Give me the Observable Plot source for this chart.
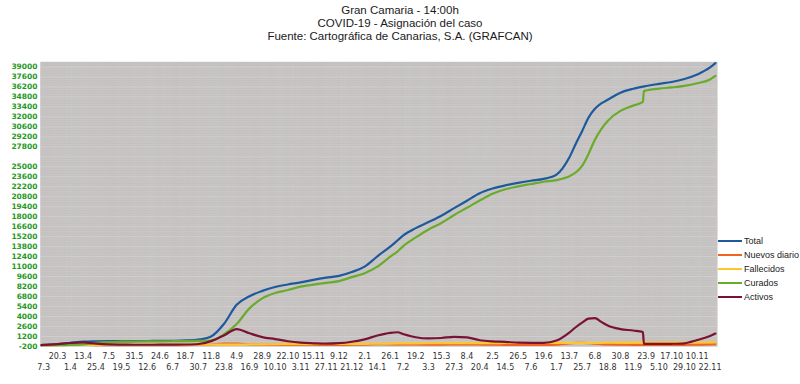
<!DOCTYPE html>
<html><head><meta charset="utf-8">
<script src="https://cdn.jsdelivr.net/npm/d3@7"></script>
<script src="https://cdn.jsdelivr.net/npm/@observablehq/plot@0.6"></script>
<style>
html,body{margin:0;padding:0;background:#fff;}
body{width:800px;height:384px;overflow:hidden;}
#title{height:45px;box-sizing:border-box;padding-top:4px;text-align:center;font-family:"Liberation Sans Narrow","Liberation Sans",Arial,sans-serif;font-size:11.5px;line-height:13px;color:#1a1a1a;}
#chart svg{display:block;}
</style></head><body>
<div id="title">Gran Camaria - 14:00h<br>COVID-19 - Asignación del caso<br>Fuente: Cartográfica de Canarias, S.A. (GRAFCAN)</div>
<div id="chart"></div>
<script>
// ---- data ----
const dates = ["2020-03-05","2020-03-07","2020-03-20","2020-04-01","2020-04-13","2020-04-25","2020-05-07","2020-05-19","2020-05-31","2020-06-12","2020-06-24","2020-07-06","2020-07-18","2020-07-30","2020-08-11","2020-08-23","2020-09-04","2020-09-16","2020-09-28","2020-10-10","2020-10-22","2020-11-03","2020-11-15","2020-11-27","2020-12-09","2020-12-21","2021-01-02","2021-01-14","2021-01-26","2021-02-02","2021-02-07","2021-02-19","2021-03-03","2021-03-15","2021-03-27","2021-04-08","2021-04-20","2021-05-02","2021-05-14","2021-05-26","2021-06-07","2021-06-19","2021-07-01","2021-07-13","2021-07-19","2021-07-25","2021-07-31","2021-08-06","2021-08-12","2021-08-18","2021-08-30","2021-09-11","2021-09-20","2021-09-21","2021-09-23","2021-10-05","2021-10-17","2021-10-29","2021-11-10","2021-11-22","2021-11-27"];
const total = [0,20,130,330,470,520,540,550,560,570,585,605,650,760,1200,2950,5650,6850,7600,8150,8500,8800,9150,9450,9700,10250,11000,12450,13800,14700,15350,16400,17250,18150,19200,20250,21300,21950,22400,22750,23050,23300,23900,26300,28200,30000,31900,33150,33900,34400,35400,35950,36250,36270,36330,36630,36900,37320,37950,38930,39550];
const nuevos = [0,5,25,20,12,5,2,1,1,1,2,3,6,15,70,200,210,100,60,45,30,25,28,25,30,50,70,120,110,110,100,80,70,75,85,90,80,55,40,30,25,25,60,250,300,310,280,200,130,90,60,40,30,30,30,25,25,35,55,90,120];
const fallecidos = [0,0,2,10,25,40,48,52,55,55,56,57,57,58,60,65,75,90,105,115,125,135,145,150,160,170,180,200,215,225,230,245,255,262,268,274,280,284,288,291,293,295,297,300,303,306,310,315,320,326,334,342,348,348,349,352,355,358,362,366,368];
const curados = [0,0,2,30,110,300,420,470,500,515,525,540,555,580,640,1500,2950,5150,6550,7300,7720,8200,8480,8720,8960,9530,10080,11000,12400,13150,13850,15100,16220,17120,18250,19260,20270,21220,21850,22260,22590,22910,23140,23670,24200,25140,26800,28800,30300,31440,32840,33580,34100,35640,35710,35960,36130,36350,36720,37250,37740];
const activos = [0,20,125,290,380,200,90,60,45,45,50,60,80,150,550,1350,2250,1650,1120,840,540,340,250,190,260,470,800,1340,1720,1800,1560,1100,930,990,1160,1080,680,520,460,330,310,320,650,1760,2500,3150,3700,3780,3250,2740,2240,2040,1830,180,180,160,180,250,710,1270,1620];

const seriesNames = ["Total","Nuevos diario","Fallecidos","Curados","Activos"];
const seriesColors = ["#1d5a9c","#f0641e","#ffc52a","#6aab2c","#7a1233"];
const seriesValues = [total, nuevos, fallecidos, curados, activos];

const xTickLabels = ["7.3","20.3","1.4","13.4","25.4","7.5","19.5","31.5","12.6","24.6","6.7","18.7","30.7","11.8","23.8","4.9","16.9","28.9","10.10","22.10","3.11","15.11","27.11","9.12","21.12","2.1","14.1","26.1","7.2","19.2","3.3","15.3","27.3","8.4","20.4","2.5","14.5","26.5","7.6","19.6","1.7","13.7","25.7","6.8","18.8","30.8","11.9","23.9","5.10","17.10","29.10","10.11","22.11"];
const xTickYears = [2020,2020,2020,2020,2020,2020,2020,2020,2020,2020,2020,2020,2020,2020,2020,2020,2020,2020,2020,2020,2020,2020,2020,2020,2020,2021,2021,2021,2021,2021,2021,2021,2021,2021,2021,2021,2021,2021,2021,2021,2021,2021,2021,2021,2021,2021,2021,2021,2021,2021,2021,2021,2021];
const yTickLabels = [-200,1200,2600,4000,5400,6800,8200,9600,11000,12400,13800,15200,16600,18000,19400,20800,22200,23600,25000,27800,29200,30600,32000,33400,34800,36200,37600,39000];
const yGrid = [-200,1200,2600,4000,5400,6800,8200,9600,11000,12400,13800,15200,16600,18000,19400,20800,22200,23600,25000,26400,27800,29200,30600,32000,33400,34800,36200,37600,39000];

// ---- build tables ----
const parse = d3.utcParse("%Y-%m-%d");
const rows = [];
seriesNames.forEach((name, s) => {
  dates.forEach((d, i) => rows.push({series: name, date: parse(d), value: seriesValues[s][i]}));
});
const ticks = xTickLabels.map((lab, i) => {
  const [dd, mm] = lab.split(".").map(Number);
  return {label: lab, date: new Date(Date.UTC(xTickYears[i], mm - 1, dd)), row: i % 2};
});
const minorGrid = [];
for (let i = 0; i < yGrid.length - 1; i++) {
  for (let k = 1; k < 4; k++) minorGrid.push(yGrid[i] + (yGrid[i + 1] - yGrid[i]) * k / 4);
}
const dayTicks = d3.utcDay.range(parse("2020-03-04"), parse("2021-11-29"));

const chart = Plot.plot({
  width: 800, height: 339,
  marginTop: 16.5, marginBottom: 38, marginLeft: 40, marginRight: 83,
  style: {fontFamily: "DejaVu Sans, Verdana, sans-serif", fontSize: "8px", background: "#fff"},
  x: {type: "utc", domain: [parse("2020-03-04"), parse("2021-11-29")], axis: null},
  y: {domain: [-200, 39700], axis: null},
  color: {domain: seriesNames, range: seriesColors},
  marks: [
    Plot.frame({fill: "#bfbfbf", stroke: null}),
    Plot.ruleY(minorGrid, {stroke: "#c9c9c9", strokeWidth: 1}),
    Plot.ruleY(yGrid, {stroke: "#d6d6d6", strokeWidth: 1}),
    Plot.tickX(dayTicks, {x: d => d, frameAnchor: "bottom", stroke: "#ccc4c4", strokeWidth: 0.5}),
    Plot.text(yTickLabels, {y: d => d, frameAnchor: "left", dx: -3, textAnchor: "end", fill: "#1f9a1f", fontWeight: "bold", fontSize: 7.5, text: d => String(d)}),
    Plot.text(ticks.filter(t => t.row === 1), {x: "date", text: "label", frameAnchor: "bottom", dy: 10, lineAnchor: "middle", fill: "#333"}),
    Plot.text(ticks.filter(t => t.row === 0), {x: "date", text: "label", frameAnchor: "bottom", dy: 21, lineAnchor: "middle", fill: "#333"}),
    ...seriesNames.map(name => Plot.line(rows.filter(r => r.series === name), {x: "date", y: "value", stroke: "series", strokeWidth: 2.2, strokeLinejoin: "round", curve: "monotone-x"}))
  ]
});
document.getElementById("chart").appendChild(chart);

// legend in right margin
const svg = d3.select(chart);
const lg = svg.append("g").attr("font-family", "Liberation Sans, Arial, sans-serif").attr("font-size", 9).attr("text-anchor", "start");
seriesNames.forEach((name, i) => {
  const y = 196 + i * 14;
  lg.append("line").attr("x1", 718).attr("x2", 742).attr("y1", y).attr("y2", y).attr("stroke", seriesColors[i]).attr("stroke-width", 2);
  lg.append("text").attr("x", 744).attr("y", y).attr("dy", "0.35em").attr("text-anchor", "start").attr("fill", "#222").text(name);
});
</script>
</body></html>
